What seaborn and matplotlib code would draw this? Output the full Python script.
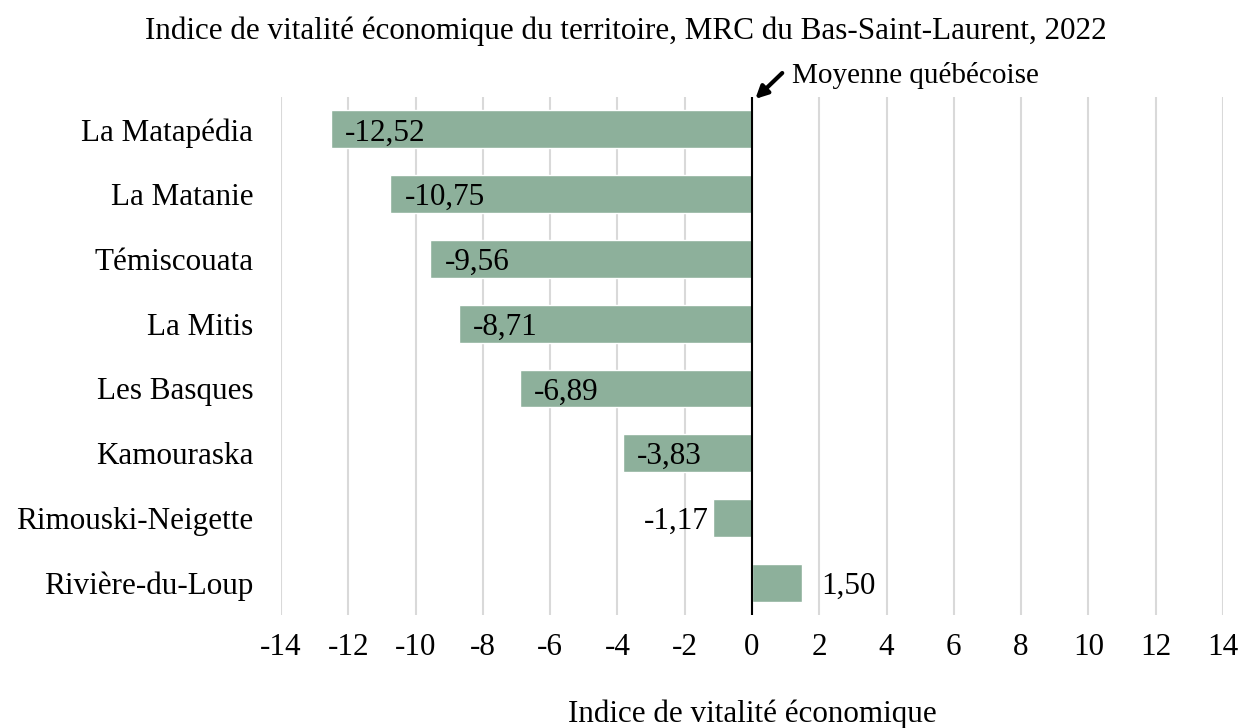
import pandas as pd
import numpy as np
import matplotlib.pyplot as plt
import seaborn as sns

mrc = ['La Matapédia', 'La Matanie', 'Témiscouata', 'La Mitis', 'Les Basques',
       'Kamouraska', 'Rimouski-Neigette', 'Rivière-du-Loup']
indice = [-12.52, -10.75, -9.56, -8.71, -6.89, -3.83, -1.17, 1.50]
xticks = list(range(-14, 15, 2))

df = pd.DataFrame({'MRC': mrc, 'Indice': indice})

sns.set_style('white')
plt.rcParams['font.family'] = ['Liberation Serif', 'DejaVu Serif']
plt.rcParams['text.color'] = 'black'
plt.rcParams['xtick.color'] = 'black'
plt.rcParams['ytick.color'] = 'black'
plt.rcParams['axes.labelcolor'] = 'black'
fs = 22.4

fig = plt.figure(figsize=(12.52, 7.28), dpi=100)
ax = fig.add_axes([0.2244, 0.155, 0.7524, 0.7118])
ax.set_axisbelow(True)

sns.barplot(data=df, x='Indice', y='MRC', color='#8db09b', saturation=1,
            width=0.585, orient='h', ax=ax)

ax.set_xlim(-14, 14)
ax.set_ylim(7.5, -0.5)
ax.set_xticks(xticks)
ax.set_xticklabels([str(t) for t in xticks], fontsize=fs)
ax.tick_params(axis='y', labelsize=fs, length=0, pad=20)
ax.tick_params(axis='x', length=0, pad=12.5)
ax.grid(axis='x', color='#d9d9d9', linewidth=1.5)
ax.grid(axis='y', visible=False)
for s in ax.spines.values():
    s.set_visible(False)
ax.axvline(0, color='black', linewidth=1.5, zorder=4)

for i, v in enumerate(indice):
    lab = f'{v:.2f}'.replace('.', ',')
    if v > 0:
        ax.text(v + 0.57, i, lab, va='center_baseline', ha='left', fontsize=fs, zorder=5)
    elif v > -2:
        ax.text(v - 0.1, i, lab, va='center_baseline', ha='right', fontsize=fs, zorder=5)
    else:
        ax.text(v + 0.42, i, lab, va='center_baseline', ha='left', fontsize=fs, zorder=5)

ax.annotate('', xy=(0.1, -0.47), xytext=(0.9, -0.87), annotation_clip=False,
            arrowprops=dict(arrowstyle='-|>', color='black', lw=3,
                            mutation_scale=18, shrinkA=0, shrinkB=0))
ax.text(1.19, -0.885, 'Moyenne québécoise', ha='left', va='center_baseline',
        fontsize=21, clip_on=False)

ax.set_xlabel('Indice de vitalité économique', fontsize=fs, labelpad=27)
ax.set_ylabel('')
fig.suptitle('Indice de vitalité économique du territoire, MRC du Bas-Saint-Laurent, 2022',
             fontsize=fs, y=0.978)

plt.savefig('out.png', dpi=100)
